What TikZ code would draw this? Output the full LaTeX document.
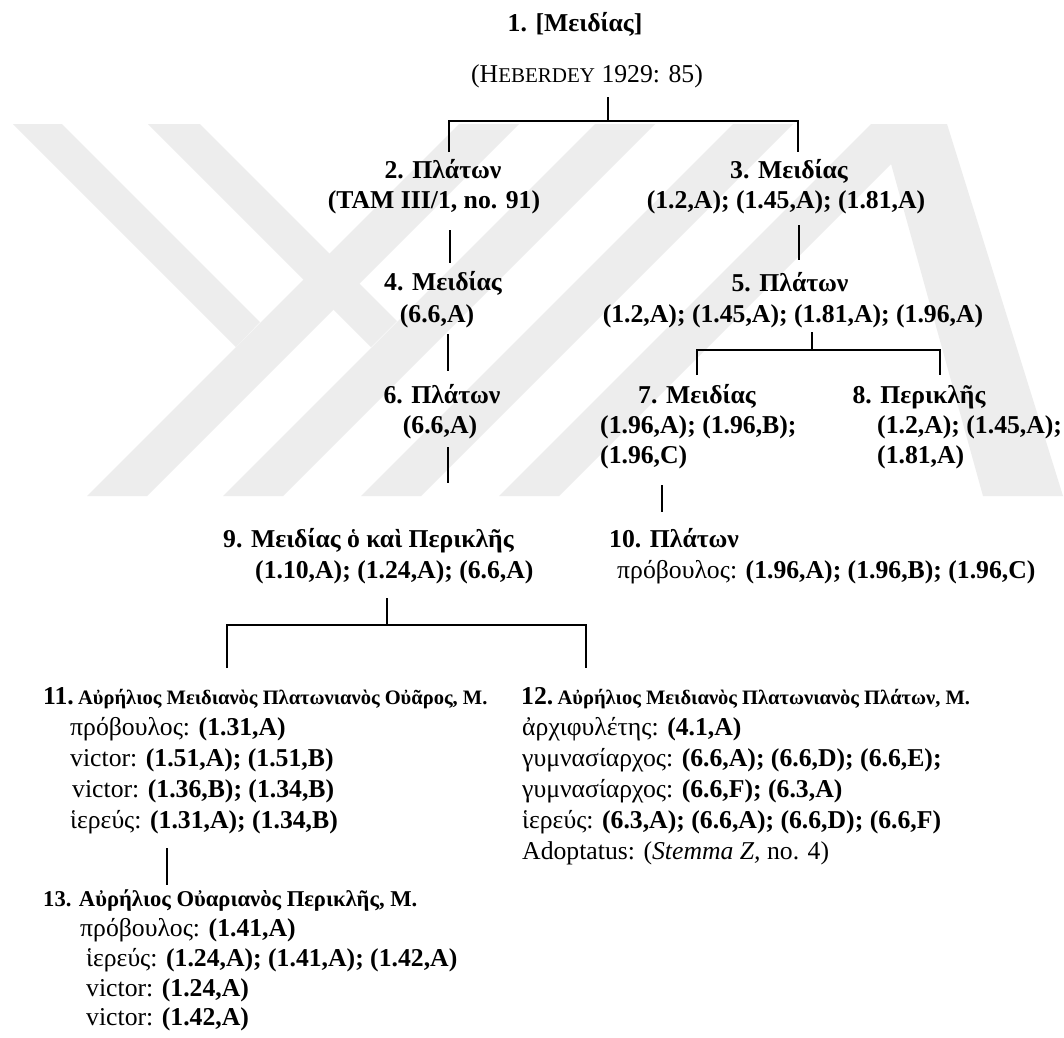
\documentclass[tikz,border=0pt]{standalone}
\usepackage{fontspec}
\setmainfont{Liberation Serif}
\newcommand{\mainsz}{\fontsize{25.7}{30}\selectfont}
\newcommand{\namesize}{\fontsize{20.5}{24}\selectfont}
\newcommand{\lastsize}{\fontsize{22.6}{26}\selectfont}
\begin{document}
\begin{tikzpicture}[x=1pt,y=-1pt,
  conn/.style={line width=1.7pt},
  wm/.style={fill=black!7},
  bl/.style={font=\mainsz\bfseries, inner sep=0pt},
  rg/.style={font=\mainsz, inner sep=0pt},
  ctr/.style={anchor=base},
  lft/.style={anchor=base west}]
\useasboundingbox[fill=white] (0,0) rectangle (1064,1037);

% faint background emblem: two arms joining the rising bands, and a peak on the right
\fill[wm] (13,124) -- (62,124) -- (260,322) -- (236,347) -- cycle;
\fill[wm] (148,124) -- (200,124) -- (397,321) -- (371,347) -- cycle;
\fill[wm] (87,496) -- (147,496) -- (519,124) -- (459,124) -- cycle;
\fill[wm] (223,496) -- (283,496) -- (655,124) -- (595,124) -- cycle;
\fill[wm] (361,496) -- (421,496) -- (793,124) -- (733,124) -- cycle;
\fill[wm] (499,496) -- (559,496) -- (931,124) -- (871,124) -- cycle;
\fill[wm] (880,124) -- (947,124) -- (1063,496) -- (983,496) -- cycle;

% generation 1
\node[bl,ctr] (p1) at (575,31) {1. [Μειδίας]};
\node[rg,ctr] (p1r) at (587,82) {(H{\fontsize{21}{24}\selectfont EBERDEY} 1929: 85)};

% generations 2 and 3
\node[bl,ctr] (p2) at (443,178) {2. Πλάτων};
\node[bl,ctr] (p2r) at (434,208) {(TAM III/1, no. 91)};
\node[bl,ctr] (p3) at (789,178) {3. Μειδίας};
\node[bl,ctr] (p3r) at (786,208) {(1.2,A); (1.45,A); (1.81,A)};
\node[bl,ctr] (p4) at (443,290) {4. Μειδίας};
\node[bl,ctr] (p4r) at (437,322) {(6.6,A)};
\node[bl,ctr] (p5) at (790,291) {5. Πλάτων};
\node[bl,ctr] (p5r) at (793,322) {(1.2,A); (1.45,A); (1.81,A); (1.96,A)};

% generation 4
\node[bl,ctr] (p6) at (442,403) {6. Πλάτων};
\node[bl,ctr] (p6r) at (440,433) {(6.6,A)};
\node[bl,ctr] (p7) at (697,403) {7. Μειδίας};
\node[bl,lft] (p7r) at (600,433) {(1.96,A); (1.96,B);};
\node[bl,lft] (p7s) at (600,463) {(1.96,C)};
\node[bl,ctr] (p8) at (919,403) {8. Περικλῆς};
\node[bl,lft] (p8r) at (877,433) {(1.2,A); (1.45,A);};
\node[bl,lft] (p8s) at (877,463) {(1.81,A)};

% generation 5
\node[bl,lft] (p9) at (223,547) {9. Μειδίας ὁ καὶ Περικλῆς};
\node[bl,lft] (p9r) at (255,578) {(1.10,A); (1.24,A); (6.6,A)};
\node[bl,lft] (p10) at (609,547) {10. Πλάτων};
\node[rg,lft] (p10r) at (617,578) {πρόβουλος: \textbf{(1.96,A); (1.96,B); (1.96,C)}};

% generation 6
\node[bl,lft] (p11) at (43,704) {11.\,{\namesize Αὐρήλιος Μειδιανὸς Πλατωνιανὸς Οὐᾶρος, Μ.}};
\node[rg,lft] (p11a) at (70,735) {πρόβουλος: \textbf{(1.31,A)}};
\node[rg,lft] (p11b) at (70,766) {victor: \textbf{(1.51,A); (1.51,B)}};
\node[rg,lft] (p11c) at (72,797) {victor: \textbf{(1.36,B); (1.34,B)}};
\node[rg,lft] (p11d) at (70,828) {ἱερεύς: \textbf{(1.31,A); (1.34,B)}};

\node[bl,lft] (p12) at (521,704) {12.\,{\namesize Αὐρήλιος Μειδιανὸς Πλατωνιανὸς Πλάτων, Μ.}};
\node[rg,lft] (p12a) at (522,735) {ἀρχιφυλέτης: \textbf{(4.1,A)}};
\node[rg,lft] (p12b) at (522,766) {γυμνασίαρχος: \textbf{(6.6,A); (6.6,D); (6.6,E);}};
\node[rg,lft] (p12c) at (522,797) {γυμνασίαρχος: \textbf{(6.6,F); (6.3,A)}};
\node[rg,lft] (p12d) at (522,828) {ἱερεύς: \textbf{(6.3,A); (6.6,A); (6.6,D); (6.6,F)}};
\node[rg,lft] (p12e) at (522,859) {Adoptatus: (\textit{Stemma Z,} no. 4)};

% generation 7
\node[bl,lft] (p13) at (43,906) {\lastsize 13. Αὐρήλιος Οὐαριανὸς Περικλῆς, Μ.};
\node[rg,lft] (p13a) at (80,936) {πρόβουλος: \textbf{(1.41,A)}};
\node[rg,lft] (p13b) at (86,966) {ἱερεύς: \textbf{(1.24,A); (1.41,A); (1.42,A)}};
\node[rg,lft] (p13c) at (86,996) {victor: \textbf{(1.24,A)}};
\node[rg,lft] (p13d) at (86,1025) {victor: \textbf{(1.42,A)}};

% connector end points
\coordinate (d1) at (608,97);
\coordinate (j1) at (608,121);
\coordinate (u2) at (449,152);
\coordinate (u3) at (798,152);
\coordinate (d2) at (450,230);
\coordinate (u4) at (450,263);
\coordinate (d3) at (799,225);
\coordinate (u5) at (799,260);
\coordinate (d4) at (448,334);
\coordinate (u6) at (448,371);
\coordinate (d5) at (812,332);
\coordinate (j5) at (812,350);
\coordinate (u7) at (697,375);
\coordinate (u8) at (940,375);
\coordinate (d6) at (448,447);
\coordinate (u9) at (448,483);
\coordinate (d7) at (662,485);
\coordinate (u10) at (662,512);
\coordinate (d9) at (387,598);
\coordinate (j9) at (387,625);
\coordinate (u11) at (227,668);
\coordinate (u12) at (586,668);
\coordinate (d11) at (167,848);
\coordinate (u13) at (167,885);

% descent lines
\draw[conn] (d1) -- (j1);
\draw[conn] (u2) |- (j1) -| (u3);
\draw[conn] (d2) -- (u4);
\draw[conn] (d3) -- (u5);
\draw[conn] (d4) -- (u6);
\draw[conn] (d5) -- (j5);
\draw[conn] (u7) |- (j5) -| (u8);
\draw[conn] (d6) -- (u9);
\draw[conn] (d7) -- (u10);
\draw[conn] (d9) -- (j9);
\draw[conn] (u11) |- (j9) -| (u12);
\draw[conn] (d11) -- (u13);
\end{tikzpicture}
\end{document}
